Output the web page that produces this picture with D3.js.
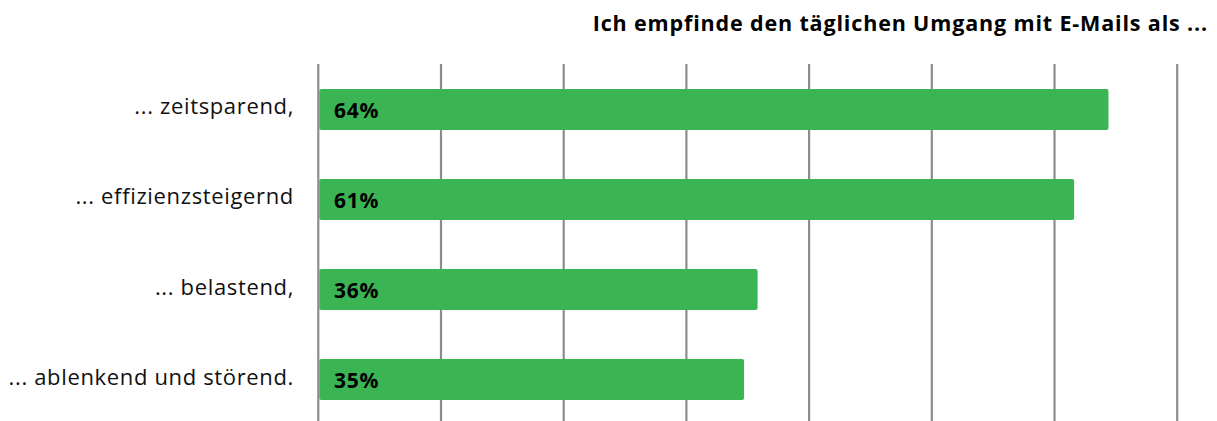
<!DOCTYPE html>
<html>
<head>
<meta charset="utf-8">
<script src="https://cdn.jsdelivr.net/npm/d3@7"></script>
<style>
  body { margin: 0; background: #fff; }
  text { font-family: "Open Sans", sans-serif; }
</style>
</head>
<body>
<div id="chart"></div>
<script>
// data
var categories = ["... zeitsparend,", "... effizienzsteigernd", "... belastend,", "... ablenkend und störend."];
var values = [0.644, 0.616, 0.358, 0.347];
var labels = ["64%", "61%", "36%", "35%"];
var ticks = [0, 0.1, 0.2, 0.3, 0.4, 0.5, 0.6, 0.7];
var title = "Ich empfinde den täglichen Umgang mit E-Mails als ...";

var width = 1217, height = 421;
var left = 318.3, right = 1177.2;

var svg = d3.select("#chart")
    .append("svg")
    .attr("width", width)
    .attr("height", height)

var x = d3.scaleLinear().domain([0, 0.7]).range([left, right]);
var y = d3.scaleBand().domain(categories).range([64.5, 424.5]).paddingInner(0.545).paddingOuter(0.272);

// gridlines
svg.append("g")
    .selectAll("line")
    .data(ticks)
    .join("line")
    .attr("x1", function(d) { return x(d) })
    .attr("x2", function(d) { return x(d) })
    .attr("y1", 64)
    .attr("y2", height)
    .attr("stroke", "#8c8c90")
    .attr("stroke-width", 2.2)

// bars
svg.append("g")
    .selectAll("rect")
    .data(values)
    .join("rect")
    .attr("x", x(0) + 1)
    .attr("y", function(d, i) { return y(categories[i]) })
    .attr("width", function(d) { return x(d) - x(0) - 1 })
    .attr("height", y.bandwidth())
    .attr("rx", 2)
    .attr("fill", "#3bb554")

// value labels
svg.append("g")
    .selectAll("text")
    .data(labels)
    .join("text")
    .attr("x", 334)
    .attr("y", function(d, i) { return y(categories[i]) + y.bandwidth() / 2 + 8.5 })
    .attr("font-size", 21)
    .attr("letter-spacing", 0.7)
    .attr("font-weight", "bold")
    .attr("fill", "#000")
    .text(function(d) { return d })

// category labels
svg.append("g")
    .selectAll("text")
    .data(categories)
    .join("text")
    .attr("x", 294)
    .attr("y", function(d) { return y(d) + y.bandwidth() / 2 + 5 })
    .attr("text-anchor", "end")
    .attr("font-size", 22)
    .attr("letter-spacing", 0.65)
    .attr("fill", "#111")
    .text(function(d) { return d })

// title
svg.append("text")
    .attr("x", 1208)
    .attr("y", 31)
    .attr("text-anchor", "end")
    .attr("font-size", 21.5)
    .attr("letter-spacing", 0.85)
    .attr("font-weight", "bold")
    .attr("fill", "#000")
    .text(title)
</script>
</body>
</html>
